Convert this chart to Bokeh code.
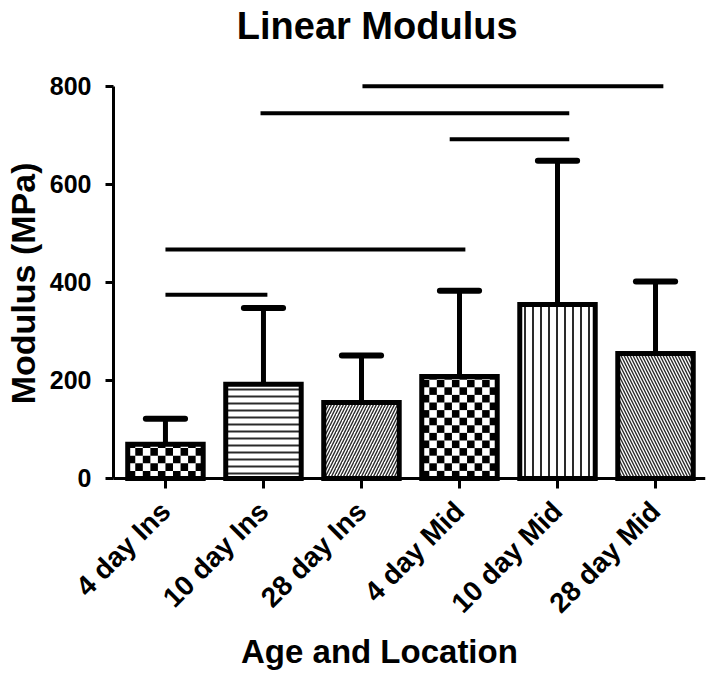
import math
from bokeh.plotting import figure
from bokeh.models import FixedTicker, Range1d, Label
from bokeh.embed import file_html
from bokeh.resources import INLINE

# ---- data ----
categories = ["4 day Ins", "10 day Ins", "28 day Ins", "4 day Mid", "10 day Mid", "28 day Mid"]
means = [70, 192, 155, 208, 355, 255]
sd = [52, 156, 96, 175, 293, 147]
patterns = ["checker", "horizontal_line", "right_diagonal_line", "checker", "vertical_line", "left_diagonal_line"]
y_ticks = [0, 200, 400, 600, 800]
# significance bars (positions in category units, 1 = first category)
sig_start = [3.01, 1.97, 3.90, 1.00, 1.00]
sig_end = [6.08, 5.12, 5.12, 4.06, 2.04]
sig_y = [800, 745, 692, 467, 375]

FONT = "Liberation Sans"
xs = list(range(1, len(categories) + 1))
BAR_W = 0.77
X0 = 0.47  # where the y axis sits
X1 = 6.51

# the frame covers the whole canvas; axes are placed at fixed locations inside it
p = figure(width=714, height=678, output_backend="svg", toolbar_location=None,
           x_range=Range1d(-0.683, X1), y_range=Range1d(-408, 975),
           min_border_left=0, min_border_right=9, min_border_top=0, min_border_bottom=0)
p.xgrid.visible = False
p.ygrid.visible = False
p.outline_line_color = None
p.background_fill_color = "white"

# checker fills
NCOL = 10
CELL_H = 15.5
cl, cr, cb, ct = [], [], [], []
for x, m, pat in zip(xs, means, patterns):
    if pat != "checker":
        continue
    cw = BAR_W / NCOL
    left0 = x - BAR_W / 2
    row = 0
    while row * CELL_H < m:
        b = row * CELL_H
        t = min(b + CELL_H, m)
        for c in range(NCOL):
            if (row + c) % 2 == 0:
                cl.append(left0 + c * cw)
                cr.append(left0 + (c + 1) * cw)
                cb.append(b)
                ct.append(t)
        row += 1
p.quad(left=cl, right=cr, bottom=cb, top=ct, fill_color="black", line_color=None)

# hatched bars
hatch_scale = {"horizontal_line": 7, "vertical_line": 8, "right_diagonal_line": 6, "left_diagonal_line": 6}
hatch_weight = {"horizontal_line": 2, "vertical_line": 2, "right_diagonal_line": 1.4, "left_diagonal_line": 1.4}
for x, m, pat in zip(xs, means, patterns):
    if pat == "checker":
        continue
    p.vbar(x=[x], top=[m], width=BAR_W, bottom=0, fill_color="white", line_color=None,
           hatch_pattern=pat, hatch_color="#2a2a2a", hatch_scale=hatch_scale[pat],
           hatch_weight=hatch_weight[pat])

# error bars (upper only)
tops = [m + s for m, s in zip(means, sd)]
p.segment(x0=xs, y0=means, x1=xs, y1=tops, line_color="black", line_width=5)
p.segment(x0=[x - 0.2 for x in xs], y0=tops, x1=[x + 0.2 for x in xs], y1=tops,
          line_color="black", line_width=6, line_cap="round")

# bar outlines
p.vbar(x=xs, top=means, width=BAR_W, bottom=0, fill_color=None, line_color="black",
       line_width=5, line_join="miter")

# significance lines
p.segment(x0=sig_start, y0=sig_y, x1=sig_end, y1=sig_y, line_color="black", line_width=4)

# axes
p.xaxis.ticker = FixedTicker(ticks=xs)
p.xaxis.major_label_overrides = {x: c for x, c in zip(xs, categories)}
p.xaxis.major_label_orientation = math.pi / 4
p.xaxis.bounds = (X0, X1)
p.xaxis.fixed_location = 0
p.yaxis.ticker = FixedTicker(ticks=y_ticks)
p.yaxis.bounds = (0, 800)
p.yaxis.fixed_location = X0
for ax in (p.xaxis[0], p.yaxis[0]):
    ax.axis_line_width = 3
    ax.axis_line_color = "black"
    ax.major_tick_line_width = 3
    ax.major_tick_line_color = "black"
    ax.major_tick_in = 0
    ax.minor_tick_line_color = None
    ax.major_label_text_font = FONT
    ax.major_label_text_font_style = "bold"
    ax.major_label_text_color = "black"
p.xaxis.major_label_text_font_size = "28px"
p.yaxis.major_label_text_font_size = "25px"
p.xaxis.major_tick_out = 10
p.yaxis.major_tick_out = 8
p.yaxis.major_label_standoff = 14
p.xaxis.major_label_standoff = 18

# y title
p.add_layout(Label(x=-0.45, y=398, text="Modulus (MPa)", angle=math.pi / 2,
                   text_align="center", text_baseline="middle", text_font=FONT,
                   text_font_style="bold", text_font_size="34px", text_color="black"))
# main title
p.add_layout(Label(x=3.16, y=922, text="Linear Modulus", text_align="center",
                   text_baseline="alphabetic", text_font=FONT, text_font_style="bold",
                   text_font_size="38px", text_color="black"))
# x title
p.add_layout(Label(x=3.23, y=-353, text="Age and  Location", text_align="center",
                   text_baseline="alphabetic", text_font=FONT, text_font_style="bold",
                   text_font_size="33px", text_color="black"))

open("out.html", "w").write(file_html(p, INLINE))
